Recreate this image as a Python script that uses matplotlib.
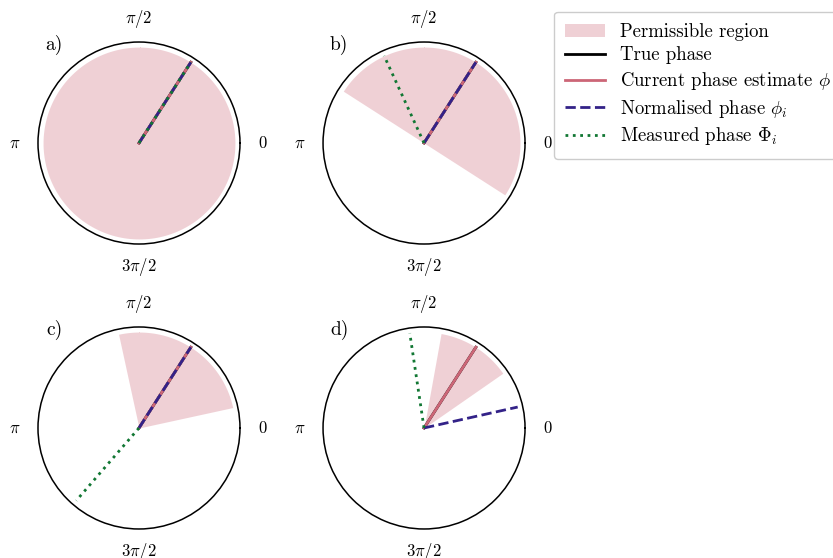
import matplotlib
matplotlib.use("Agg")
import matplotlib.pyplot as plt
import numpy as np

plt.rcParams["font.family"] = "serif"
plt.rcParams["font.serif"] = ["cmr10"]
plt.rcParams["mathtext.fontset"] = "cm"
plt.rcParams["axes.formatter.use_mathtext"] = True

# phases in radians, one entry per panel a) .. d)
panel_labels = ["a)", "b)", "c)", "d)"]
true_phase = [1.0, 1.0, 1.0, 1.0]
estimate = [1.0, 1.0, 1.0, 1.0]
normalised = [1.0, 1.0, 1.0, 0.22]
measured = [1.0, 2.0, 4.0, 1.72]
half_width = [np.pi, np.pi / 2, np.pi / 4, np.pi / 8]

tick_pos = [0, np.pi / 2, np.pi, 3 * np.pi / 2]
tick_labels = [r"$0$", r"$\pi/2$", r"$\pi$", r"$3\pi/2$"]

RADIUS = 0.95
PINK = "#CC6677"
INDIGO = "#332288"
GREEN = "#117733"

fig = plt.figure(figsize=(8.33, 5.58), dpi=100)
axes_rects = [
    [0.0456, 0.5627, 0.2425, 0.362],
    [0.3878, 0.5627, 0.2425, 0.362],
    [0.0456, 0.052, 0.2425, 0.362],
    [0.3878, 0.052, 0.2425, 0.362],
]

for i, rect in enumerate(axes_rects):
    ax = fig.add_axes(rect, projection="polar")
    theta = np.linspace(estimate[i] - half_width[i], estimate[i] + half_width[i], 200)
    ax.fill_between(theta, 0, RADIUS, color=PINK, alpha=0.3, lw=0,
                    label="Permissible region")
    ax.plot([true_phase[i]] * 2, [0, RADIUS], color="black", lw=2, label="True phase")
    ax.plot([estimate[i]] * 2, [0, RADIUS], color=PINK, lw=2,
            label=r"Current phase estimate $\phi$")
    ax.plot([normalised[i]] * 2, [0, RADIUS], color=INDIGO, lw=2, ls="--",
            label=r"Normalised phase $\phi_i$")
    ax.plot([measured[i]] * 2, [0, RADIUS], color=GREEN, lw=2, ls=":",
            label=r"Measured phase $\Phi_i$")
    ax.set_rmax(1)
    ax.set_yticks([])
    ax.grid(False)
    ax.set_xticks(tick_pos)
    ax.set_xticklabels(tick_labels, fontsize=12)
    ax.tick_params(axis="x", pad=6)
    ax.spines["polar"].set_linewidth(1.1)
    ax.text(0.08, 0.985, panel_labels[i], transform=ax.transAxes,
            fontsize=14, ha="center", va="center")
    if i == 0:
        handles, labels = ax.get_legend_handles_labels()

fig.legend(handles, labels, loc="upper left", bbox_to_anchor=(0.654, 0.996),
           fontsize=13.5, handlelength=2.1, labelspacing=0.3, borderpad=0.6,
           framealpha=1, edgecolor="#cccccc")

fig.savefig("out.png", dpi=100)
